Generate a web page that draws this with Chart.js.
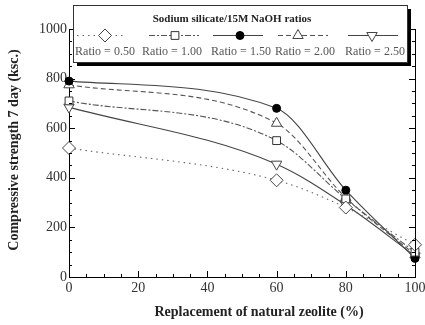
<!DOCTYPE html>
<html><head><meta charset="utf-8">
<script src="https://cdn.jsdelivr.net/npm/chart.js@4.4.0/dist/chart.umd.min.js"></script>
<style>html,body{margin:0;padding:0;background:#fff}#w{position:relative;width:425px;height:325px}</style>
</head><body><div id="w"><canvas id="c" width="425" height="325"></canvas></div>
<script>
const replacement = [0, 60, 80, 100];
const ratioLabels = ['Ratio = 0.50', 'Ratio = 1.00', 'Ratio = 1.50', 'Ratio = 2.00', 'Ratio = 2.50'];
const ratio050 = [520, 390, 280, 130];
const ratio100 = [710, 550, 315, 100];
const ratio150 = [790, 680, 350, 75];
const ratio200 = [775, 620, 320, 90];
const ratio250 = [685, 455, 290, 85];
const legendTitle = 'Sodium silicate/15M NaOH ratios';
const xTitle = 'Replacement of natural zeolite (%)';
const yTitle = 'Compressive strength 7 day (ksc.)';

const seriesValues = [ratio050, ratio100, ratio150, ratio200, ratio250];
const styles = [
  {borderColor:'#666', borderDash:[1.5,4], pointStyle:'rectRot', pointRadius:6.5, pointBackgroundColor:'#fff', pointBorderColor:'#444', rotation:0},
  {borderColor:'#555', borderDash:[6,2,2,2], pointStyle:'rect', pointRadius:5.5, pointBackgroundColor:'#fff', pointBorderColor:'#333', rotation:0},
  {borderColor:'#444', borderDash:[], pointStyle:'circle', pointRadius:4, pointBackgroundColor:'#000', pointBorderColor:'#000', rotation:0},
  {borderColor:'#555', borderDash:[5,3], pointStyle:'triangle', pointRadius:6, pointBackgroundColor:'#fff', pointBorderColor:'#444', rotation:0},
  {borderColor:'#444', borderDash:[], pointStyle:'triangle', pointRadius:6, pointBackgroundColor:'#fff', pointBorderColor:'#444', rotation:180}
];
const datasets = seriesValues.map((vals, i) => ({
  label: ratioLabels[i],
  data: vals.map((v, j) => ({x: replacement[j], y: v})),
  borderWidth: 1.1,
  cubicInterpolationMode: 'monotone',
  clip: false,
  pointBorderWidth: 1,
  borderColor: styles[i].borderColor,
  borderDash: styles[i].borderDash,
  pointStyle: styles[i].pointStyle,
  pointRadius: styles[i].pointRadius,
  pointBackgroundColor: styles[i].pointBackgroundColor,
  pointBorderColor: styles[i].pointBorderColor,
  pointRotation: styles[i].rotation
}));

const serif = "'Liberation Serif', 'DejaVu Serif', serif";

const decor = {
  id: 'decor',
  afterDatasetsDraw(chart) {
    const ctx = chart.ctx, ca = chart.chartArea;
    const xs = chart.scales.x, ys = chart.scales.y;
    ctx.save();
    ctx.strokeStyle = '#000'; ctx.lineWidth = 1;
    ctx.beginPath(); ctx.moveTo(Math.round(ca.right)+0.5, ca.top); ctx.lineTo(Math.round(ca.right)+0.5, ca.bottom); ctx.stroke();
    for (let v = 0; v <= 1000; v += 50) {
      const y = Math.round(ys.getPixelForValue(v)) + 0.5;
      const len = v % 200 === 0 ? 6 : 3;
      ctx.beginPath();
      ctx.moveTo(ca.left, y); ctx.lineTo(ca.left + len, y);
      ctx.moveTo(ca.right, y); ctx.lineTo(ca.right - len, y);
      ctx.stroke();
    }
    for (let v = 0; v <= 100; v += 5) {
      const x = Math.round(xs.getPixelForValue(v)) + 0.5;
      const len = v % 20 === 0 ? 6 : 3;
      ctx.beginPath(); ctx.moveTo(x, ca.bottom); ctx.lineTo(x, ca.bottom - len); ctx.stroke();
    }
    ctx.restore();
  },
  afterDraw(chart) {
    const ctx = chart.ctx;
    const H = Chart.helpers;
    ctx.save();
    ctx.fillStyle = '#222';
    ctx.font = "bold 14px " + serif;
    ctx.textAlign = 'center'; ctx.textBaseline = 'middle';
    ctx.fillText(xTitle, 259, 312);
    ctx.save(); ctx.translate(14, 150); ctx.rotate(-Math.PI/2); ctx.fillText(yTitle, 0, 0); ctx.restore();
    const bx = 73, by = 5, bw = 334, bh = 57;
    ctx.fillStyle = '#000';
    ctx.fillRect(bx + 4, by + 4, bw, bh);
    ctx.fillStyle = '#fff';
    ctx.fillRect(bx, by, bw, bh);
    ctx.strokeStyle = '#333'; ctx.lineWidth = 1;
    ctx.strokeRect(bx + 0.5, by + 0.5, bw, bh);
    ctx.fillStyle = '#222';
    ctx.font = "bold 11px " + serif;
    ctx.fillText(legendTitle, 232, 19);
    const lineX = [[77,125,105],[149,199,175],[213,263,240],[278,328,298],[348,398,372]];
    const labelX = [105,172,241,305,375];
    chart.data.datasets.forEach((ds, i) => {
      ctx.save();
      ctx.strokeStyle = ds.borderColor; ctx.lineWidth = ds.borderWidth;
      ctx.setLineDash(ds.borderDash);
      ctx.beginPath(); ctx.moveTo(lineX[i][0], 35.5); ctx.lineTo(lineX[i][1], 35.5); ctx.stroke();
      ctx.setLineDash([]);
      ctx.fillStyle = ds.pointBackgroundColor; ctx.strokeStyle = ds.pointBorderColor; ctx.lineWidth = 1;
      H.drawPoint(ctx, {pointStyle: ds.pointStyle, radius: ds.pointRadius, rotation: ds.pointRotation, borderWidth: 1}, lineX[i][2], 35.5);
      ctx.restore();
      ctx.fillStyle = '#555';
      ctx.font = "12px " + serif;
      ctx.fillText(ds.label, labelX[i], 52);
    });
    ctx.restore();
  }
};

new Chart(document.getElementById('c'), {
  type: 'line',
  data: { datasets },
  options: {
    responsive: false, animation: false, devicePixelRatio: 1,
    layout: { padding: { left: 0, right: 10, top: 29, bottom: 0 } },
    plugins: { legend: { display: false }, tooltip: { enabled: false } },
    scales: {
      x: {
        type: 'linear', min: 0, max: 100,
        afterFit(s) { s.height = 48; s.paddingRight = 0; s.paddingLeft = 0; },
        grid: { display: false, drawTicks: false },
        border: { display: true, color: '#000', width: 1 },
        ticks: { stepSize: 20, padding: 3, color: '#333', font: { family: serif, size: 14 }, callback: v => String(v) }
      },
      y: {
        min: 0, max: 1000,
        afterFit(s) { s.width = 69; s.paddingTop = 0; s.paddingBottom = 0; },
        grid: { display: false, drawTicks: false },
        border: { display: true, color: '#000', width: 1 },
        ticks: { stepSize: 200, padding: 2, color: '#333', font: { family: serif, size: 14 }, callback: v => String(v) }
      }
    }
  },
  plugins: [decor]
});
</script>
</body></html>
